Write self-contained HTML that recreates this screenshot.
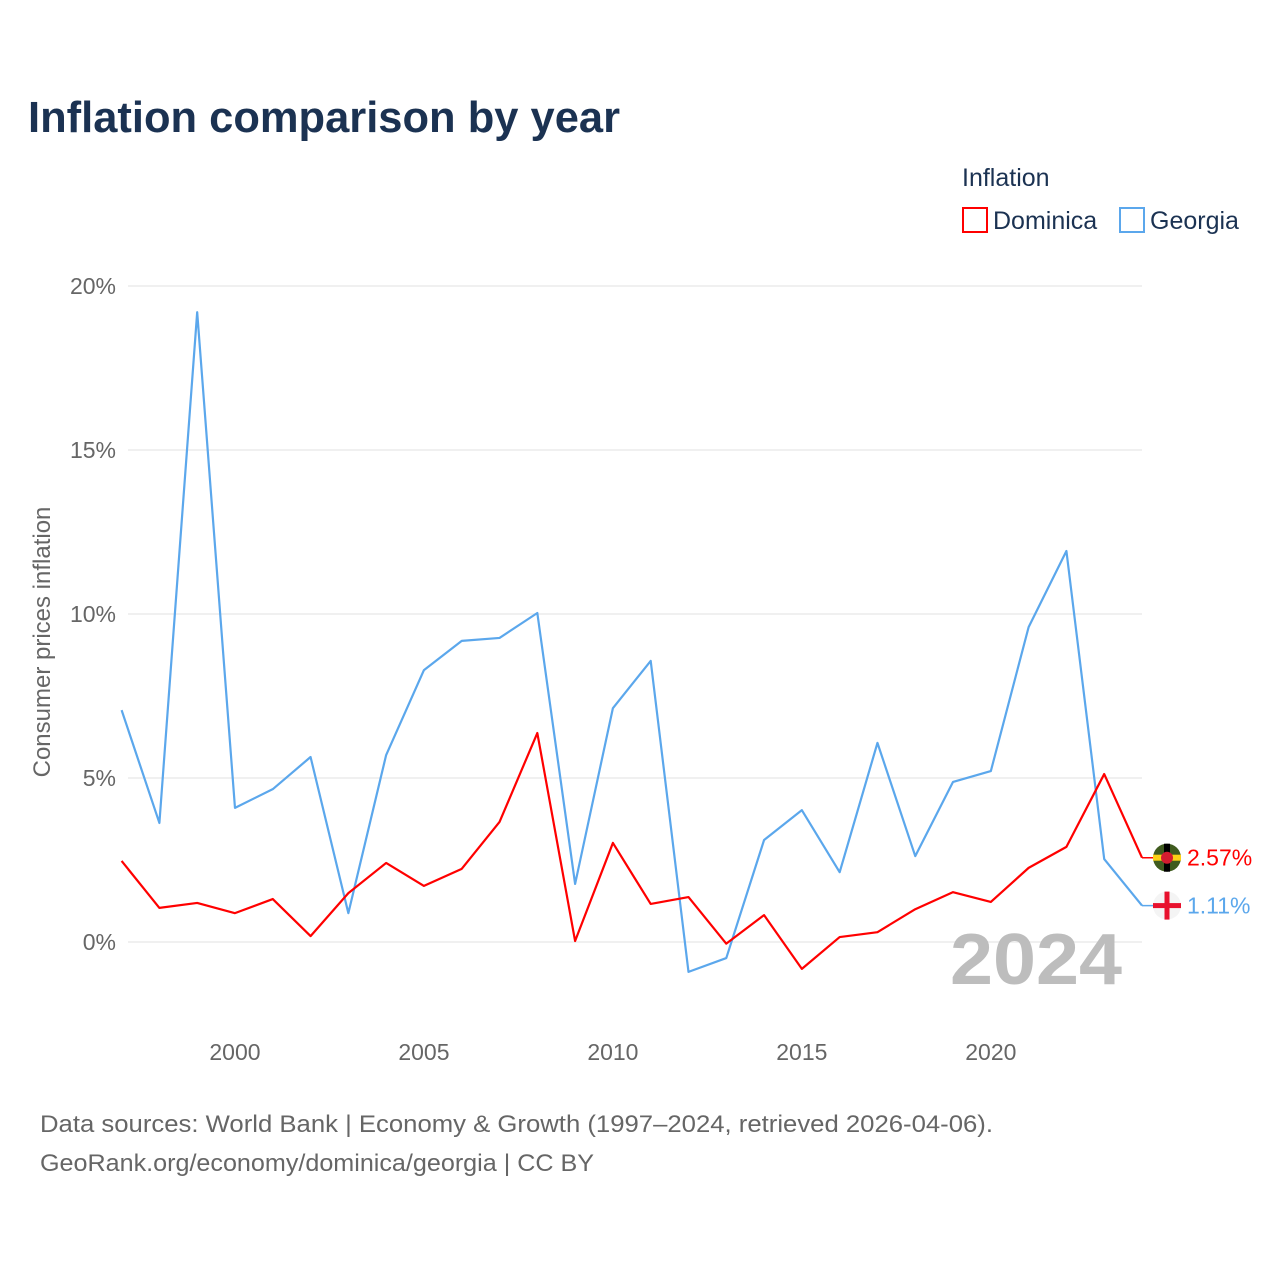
<!DOCTYPE html>
<html><head><meta charset="utf-8"><style>
body{margin:0;background:#fff;width:1280px;height:1280px;overflow:hidden;font-family:"Liberation Sans",sans-serif}
</style></head><body>
<svg width="1280" height="1280" xmlns="http://www.w3.org/2000/svg">
<text x="28" y="132" font-size="44" font-weight="bold" fill="#1b3252" textLength="592" lengthAdjust="spacingAndGlyphs">Inflation comparison by year</text>
<text x="962" y="186" font-size="25" fill="#1b3252">Inflation</text>
<g><rect x="963" y="208" width="24" height="24" fill="none" stroke="#ff0000" stroke-width="2"/><text x="993" y="229" font-size="25" fill="#1b3252">Dominica</text></g>
<g><rect x="1120" y="208" width="24" height="24" fill="none" stroke="#5ba7ec" stroke-width="2"/><text x="1150" y="229" font-size="25" fill="#1b3252">Georgia</text></g>
<g id="grid"></g>
<g id="yt"></g>
<g id="xt"></g>
<text transform="translate(50,642) rotate(-90)" text-anchor="middle" font-size="24" fill="#666">Consumer prices inflation</text>
<text x="950" y="984" font-size="72" font-weight="bold" fill="#bdbdbd" textLength="172" lengthAdjust="spacingAndGlyphs">2024</text>
<g id="series"></g>
<text x="40" y="1132" font-size="24" fill="#666" textLength="953" lengthAdjust="spacingAndGlyphs">Data sources: World Bank | Economy &amp; Growth (1997–2024, retrieved 2026-04-06).</text>
<text x="40" y="1171" font-size="24" fill="#666" textLength="554" lengthAdjust="spacingAndGlyphs">GeoRank.org/economy/dominica/georgia | CC BY</text>
</svg>
<script>
const years=[1997,1998,1999,2000,2001,2002,2003,2004,2005,2006,2007,2008,2009,2010,2011,2012,2013,2014,2015,2016,2017,2018,2019,2020,2021,2022,2023,2024];
const georgia=[7.07,3.63,19.2,4.09,4.66,5.64,0.88,5.7,8.29,9.18,9.27,10.03,1.77,7.13,8.57,-0.91,-0.49,3.11,4.02,2.13,6.07,2.62,4.88,5.21,9.6,11.92,2.53,1.11];
const dominica=[2.47,1.04,1.19,0.88,1.31,0.18,1.49,2.41,1.71,2.23,3.66,6.37,0.03,3.02,1.16,1.37,-0.05,0.82,-0.82,0.15,0.3,1.0,1.52,1.22,2.26,2.9,5.12,2.57];
const yTicks=[0,5,10,15,20];
const xTicks=[2000,2005,2010,2015,2020];
const NS="http://www.w3.org/2000/svg";
const X=y=>121.6+(y-1997)*(1142-121.6)/27;
const Y=v=>942-v*32.8;
function mk(t,a,p){const e=document.createElementNS(NS,t);for(const k in a)e.setAttribute(k,a[k]);p.appendChild(e);return e;}
const grid=document.getElementById('grid'),yt=document.getElementById('yt'),xt=document.getElementById('xt'),ser=document.getElementById('series');
yTicks.forEach(v=>{
 const l=mk('line',{x1:128,x2:1142,y1:Y(v),y2:Y(v),stroke:'#ebebeb','stroke-width':1.5},grid);
 
 
 const t=mk('text',{x:116,y:Y(v)+8,'text-anchor':'end','font-size':23,fill:'#666'},yt);
 t.textContent=v+'%';
 
 
});
xTicks.forEach(v=>{
 const t=mk('text',{x:X(v),y:1060,'text-anchor':'middle','font-size':23,fill:'#666'},xt);
 t.textContent=v;
 
 
});
function line(vals,col,name,flag){
 const pts=vals.map((v,i)=>X(years[i])+','+Y(v)).join(' ');
 const p=mk('polyline',{points:pts,fill:'none',stroke:col,'stroke-width':2.2,'stroke-linejoin':'round'},ser);
 
 
 const last=vals[vals.length-1],ly=Y(last),lx=X(years[years.length-1]);
 mk('line',{x1:lx,x2:lx+20,y1:ly,y2:ly,stroke:col,'stroke-width':1.5},ser);
 const g=mk('g',{},ser);
 
 
 if(flag==='dm'){
  mk('circle',{cx:lx+25,cy:ly,r:14,fill:'#3f5b1f'},g);
  mk('rect',{x:lx+11,y:ly-3,width:28,height:6,fill:'#fcd116'},g);
  mk('rect',{x:lx+22,y:ly-14,width:6,height:28,fill:'#000'},g);
  mk('circle',{cx:lx+25,cy:ly,r:6,fill:'#d41c30'},g);
 }else{
  mk('circle',{cx:lx+25,cy:ly,r:14,fill:'#f4f4f4'},g);
  mk('rect',{x:lx+11,y:ly-2.5,width:28,height:5,fill:'#e8112d'},g);
  mk('rect',{x:lx+22.5,y:ly-14,width:5,height:28,fill:'#e8112d'},g);
 }
 const t=mk('text',{x:lx+45,y:ly+8,'font-size':23,fill:col},ser);
 t.textContent=last.toFixed(2)+'%';
 
 
}
line(georgia,'#5ba7ec','georgia','ge');
line(dominica,'#ff0000','dominica','dm');
</script>
</body></html>
